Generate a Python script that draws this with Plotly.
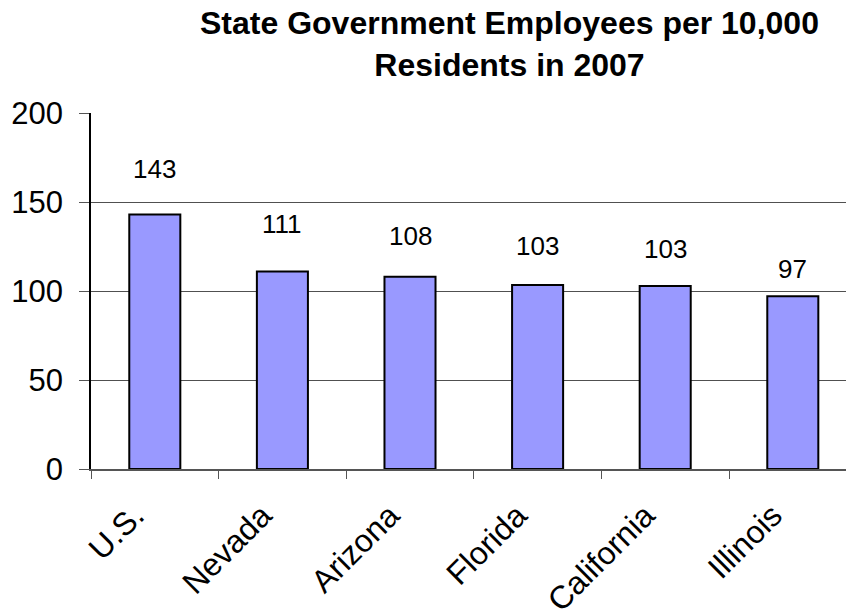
import plotly.graph_objects as go

categories = ["U.S.", "Nevada", "Arizona", "Florida", "California", "Illinois"]
employees_per_10k = [143, 111, 108, 103.4, 102.8, 97]
y_ticks = [0, 50, 100, 150, 200]

# style: pixel offset of each value label above its bar
label_offsets_px = [45, 47, 41, 39, 37, 27]

FONT = "Liberation Sans, Arial, sans-serif"
PLOT_TOP, PLOT_BOTTOM, PLOT_LEFT = 113, 469, 91

fig = go.Figure()
fig.add_trace(go.Bar(
    x=categories,
    y=employees_per_10k,
    width=0.4,
    marker=dict(color="#9999FF", line=dict(color="black", width=2)),
    hoverinfo="x+y",
))

for cat, val, off in zip(categories, employees_per_10k, label_offsets_px):
    fig.add_annotation(
        x=cat, y=val, xref="x", yref="y",
        text=f"{val:.0f}", showarrow=False,
        yanchor="middle", yshift=off,
        font=dict(family=FONT, size=26, color="black"),
    )

# chart title
fig.add_annotation(
    text="<b>State Government Employees per 10,000<br>Residents in 2007</b>",
    xref="paper", yref="paper",
    x=(509 - PLOT_LEFT) / (846 - PLOT_LEFT), xanchor="center",
    y=(PLOT_BOTTOM - 3) / (PLOT_BOTTOM - PLOT_TOP), yanchor="top",
    showarrow=False, align="center",
    font=dict(family=FONT, size=32, color="black"),
)

fig.update_layout(
    width=846, height=611,
    margin=dict(l=PLOT_LEFT, r=0, t=PLOT_TOP, b=611 - PLOT_BOTTOM, autoexpand=False),
    paper_bgcolor="white", plot_bgcolor="white",
    showlegend=False,
    font=dict(family=FONT, color="black"),
)

fig.update_xaxes(
    type="category",
    range=[-0.5, -0.5 + 755 / 127.6],
    automargin=False,
    showline=True, linecolor="#555555", linewidth=2,
    ticks="outside", ticklen=8, tickcolor="#555555", tickwidth=1,
    tickson="boundaries",
    tickangle=-45,
    ticklabelstandoff=13, ticklabelshift=-20,
    tickfont=dict(family=FONT, size=32, color="black"),
    showgrid=False,
)

fig.update_yaxes(
    range=[0, 200],
    tickvals=y_ticks,
    automargin=False,
    showline=True, linecolor="black", linewidth=1.5,
    ticks="outside", ticklen=10, tickcolor="#555555", tickwidth=1,
    ticklabelstandoff=10,
    tickfont=dict(family=FONT, size=31, color="black"),
    showgrid=True, gridcolor="#505050", gridwidth=1,
    zeroline=False,
)

fig.write_html(
    "out.html",
    config={"displayModeBar": False},
    post_script="document.body.style.margin='0';document.body.style.overflow='hidden';",
)
